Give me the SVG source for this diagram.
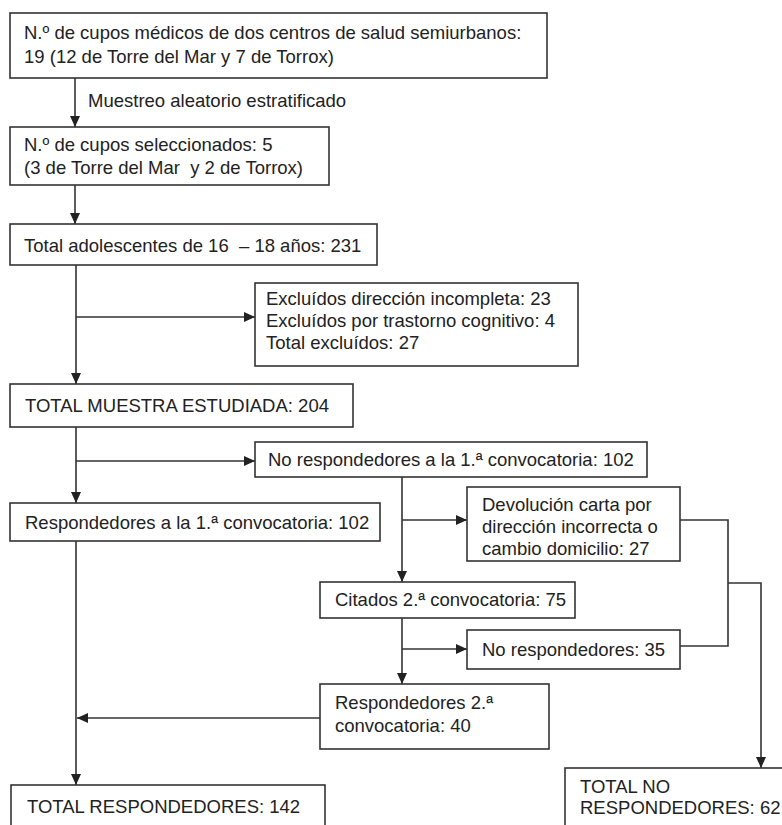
<svg xmlns="http://www.w3.org/2000/svg" width="782" height="825" viewBox="0 0 782 825">
<style>
.box{fill:#fff;stroke:#333;stroke-width:1.6}
.t{font-family:"Liberation Sans",Arial,sans-serif;font-size:18.5px;fill:#222;white-space:pre}
.c{fill:none;stroke:#333;stroke-width:1.6}
</style>
<defs>
<marker id="ah" markerUnits="userSpaceOnUse" markerWidth="12" markerHeight="10" refX="11" refY="5" orient="auto">
<path d="M0,0 L11,5 L0,10 z" fill="#222"/>
</marker>
</defs>
<rect width="782" height="825" fill="#fff"/>
<g id="connectors">
<line class="c" x1="75" y1="78" x2="75" y2="127" marker-end="url(#ah)"/>
<line class="c" x1="75" y1="185" x2="75" y2="224" marker-end="url(#ah)"/>
<line class="c" x1="76" y1="265" x2="76" y2="384" marker-end="url(#ah)"/>
<line class="c" x1="76" y1="317" x2="255" y2="317" marker-end="url(#ah)"/>
<line class="c" x1="76" y1="427" x2="76" y2="503" marker-end="url(#ah)"/>
<line class="c" x1="76" y1="461" x2="255" y2="461" marker-end="url(#ah)"/>
<line class="c" x1="76" y1="541" x2="76" y2="785" marker-end="url(#ah)"/>
<line class="c" x1="402" y1="477" x2="402" y2="582" marker-end="url(#ah)"/>
<line class="c" x1="402" y1="520" x2="467" y2="520" marker-end="url(#ah)"/>
<line class="c" x1="402" y1="618" x2="402" y2="684" marker-end="url(#ah)"/>
<line class="c" x1="402" y1="649" x2="467" y2="649" marker-end="url(#ah)"/>
<line class="c" x1="320" y1="718" x2="77" y2="718" marker-end="url(#ah)"/>
<polyline class="c" points="680,520 728,520 728,646 680,646"/>
<polyline class="c" points="728,583 761,583 761,768" marker-end="url(#ah)"/>
<text class="t" x="88" y="107">Muestreo aleatorio estratificado</text>
</g>
<g id="n1"><rect class="box" x="10" y="13" width="537" height="65"/>
<text class="t" x="24" y="39">N.º de cupos médicos de dos centros de salud semiurbanos:</text>
<text class="t" x="24" y="63">19 (12 de Torre del Mar y 7 de Torrox)</text></g>
<g id="n2"><rect class="box" x="10" y="127" width="319" height="58"/>
<text class="t" x="24" y="151">N.º de cupos seleccionados: 5</text>
<text class="t" x="24" y="174" xml:space="preserve">(3 de Torre del Mar  y 2 de Torrox)</text></g>
<g id="n3"><rect class="box" x="10" y="224" width="367" height="41"/>
<text class="t" x="24" y="252" xml:space="preserve">Total adolescentes de 16  – 18 años: 231</text></g>
<g id="n4"><rect class="box" x="255" y="283" width="323" height="83"/>
<text class="t" x="266" y="305">Excluídos dirección incompleta: 23</text>
<text class="t" x="266" y="327">Excluídos por trastorno cognitivo: 4</text>
<text class="t" x="266" y="349">Total excluídos: 27</text></g>
<g id="n5"><rect class="box" x="10" y="384" width="343" height="43"/>
<text class="t" x="25" y="412">TOTAL MUESTRA ESTUDIADA: 204</text></g>
<g id="n6"><rect class="box" x="255" y="442" width="392" height="35"/>
<text class="t" x="268" y="466">No respondedores a la 1.ª convocatoria: 102</text></g>
<g id="n7"><rect class="box" x="10" y="503" width="370" height="38"/>
<text class="t" x="25" y="529">Respondedores a la 1.ª convocatoria: 102</text></g>
<g id="n8"><rect class="box" x="467" y="487" width="213" height="74"/>
<text class="t" x="482" y="511">Devolución carta por</text>
<text class="t" x="482" y="533">dirección incorrecta o</text>
<text class="t" x="482" y="555">cambio domicilio: 27</text></g>
<g id="n9"><rect class="box" x="320" y="582" width="255" height="36"/>
<text class="t" x="335" y="606">Citados 2.ª convocatoria: 75</text></g>
<g id="n10"><rect class="box" x="467" y="630" width="213" height="39"/>
<text class="t" x="482" y="656">No respondedores: 35</text></g>
<g id="n11"><rect class="box" x="320" y="684" width="229" height="65"/>
<text class="t" x="335" y="709">Respondedores 2.ª</text>
<text class="t" x="335" y="732">convocatoria: 40</text></g>
<g id="n12"><rect class="box" x="11" y="785" width="314" height="50"/>
<text class="t" x="27" y="813">TOTAL RESPONDEDORES: 142</text></g>
<g id="n13"><rect class="box" x="565" y="768" width="230" height="70"/>
<text class="t" x="580" y="793">TOTAL NO</text>
<text class="t" x="580" y="814">RESPONDEDORES: 62</text></g>
</svg>
